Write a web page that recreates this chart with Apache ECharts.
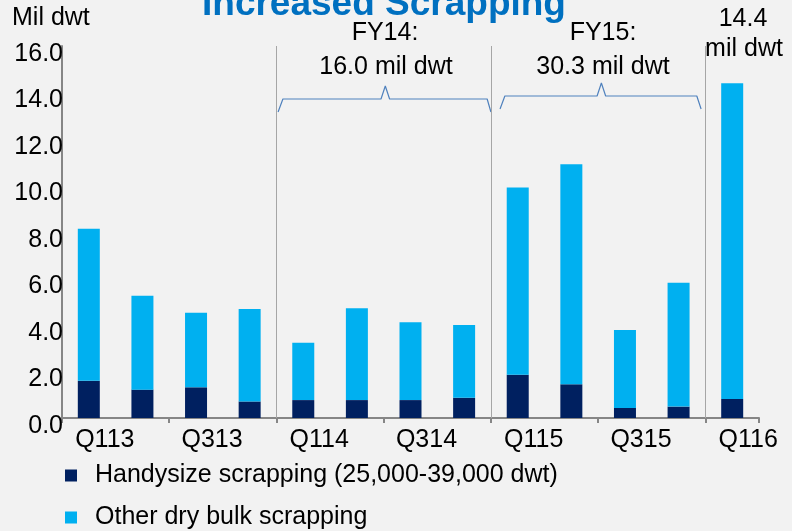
<!DOCTYPE html>
<html>
<head>
<meta charset="utf-8">
<script src="https://cdn.jsdelivr.net/npm/echarts@6/dist/echarts.min.js"></script>
<style>
html,body{margin:0;padding:0;background:#f2f2f2;}
#main{width:792px;height:531px;}
</style>
</head>
<body>
<div id="main"></div>
<script>
// 季度
var quarters = ['Q113','Q213','Q313','Q413','Q114','Q214','Q314','Q414','Q115','Q215','Q315','Q415','Q116'];
// Handysize 拆解量 (mil dwt)
var handysize = [1.60, 1.22, 1.32, 0.71, 0.77, 0.77, 0.77, 0.87, 1.86, 1.45, 0.43, 0.49, 0.82];
// 其他干散货拆解量 (mil dwt)
var otherBulk = [6.54, 4.04, 3.21, 3.98, 2.47, 3.95, 3.35, 3.13, 8.05, 9.46, 3.35, 5.33, 13.58];
// 年度分隔（类目边界序号）
var fyBounds = [4, 8, 12];
// 大括号（x 为类目边界坐标, y 为数值）
var braceFY14 = [[4.03,13.16],[4.12,13.72],[5.95,13.72],[6.03,14.28],[6.11,13.72],[7.93,13.72],[8.0,13.16]];
var braceFY15 = [[8.17,13.29],[8.26,13.85],[9.98,13.85],[10.06,14.41],[10.14,13.85],[11.84,13.85],[11.92,13.29]];

var font = '"Liberation Sans", Arial, sans-serif';
var myChart = echarts.init(document.getElementById('main'));

function note(text, x, y){
	return {type: 'text', x: x, y: y, style: {text: text, font: '25px ' + font, fill: '#000', align: 'center', verticalAlign: 'middle'}};
}

var option = {
	backgroundColor: '#f2f2f2',
	animation: false,
	title: {
		text: 'Increased Scrapping',
		left: 197,
		top: -19,
		textStyle: {color: '#0070c0', fontSize: 37, fontWeight: 'bold', fontFamily: font}
	},
	grid: {left: 62, right: 33, top: 46, bottom: 113},
	legend: {
		data: ['Handysize scrapping (25,000-39,000 dwt)', 'Other dry bulk scrapping'],
		orient: 'vertical',
		left: 65,
		top: 463,
		padding: 0,
		itemWidth: 12,
		itemHeight: 12,
		itemGap: 17,
		icon: 'rect',
		textStyle: {fontSize: 25, color: '#000', fontFamily: font, padding: [0,0,0,13]}
	},
	xAxis: [{
		type: 'category',
		data: quarters,
		axisLine: {lineStyle: {color: '#868686', width: 2}},
		axisTick: {show: true, length: 5, lineStyle: {color: '#868686', width: 2}},
		axisLabel: {interval: 1, fontSize: 25, color: '#000', fontFamily: font, margin: 10, padding: [0,0,0,32]}
	}, {
		type: 'value',
		min: 0,
		max: 13,
		show: false
	}],
	yAxis: {
		type: 'value',
		min: 0,
		max: 16,
		interval: 2,
		axisLine: {show: true, lineStyle: {color: '#868686', width: 2}},
		axisTick: {show: false},
		splitLine: {show: false},
		axisLabel: {
			fontSize: 25, color: '#000', fontFamily: font, margin: -1,
			verticalAlign: 'top', lineHeight: 16,
			formatter: function(v){ return v.toFixed(1); }
		}
	},
	graphic: [
		{type: 'text', left: 12, top: 6, style: {text: 'Mil dwt', font: '25px ' + font, fill: '#000'}},
		note('FY14:', 385, 33),
		note('16.0 mil dwt', 386, 67),
		note('FY15:', 603, 33),
		note('30.3 mil dwt', 603, 67),
		note('14.4', 743, 19),
		note('mil dwt', 744, 49)
	],
	series: [{
		name: 'Handysize scrapping (25,000-39,000 dwt)',
		type: 'bar',
		stack: 'total',
		barWidth: 22,
		itemStyle: {color: '#002060'},
		data: handysize
	}, {
		name: 'Other dry bulk scrapping',
		type: 'bar',
		stack: 'total',
		barWidth: 22,
		itemStyle: {color: '#00b0f0'},
		data: otherBulk
	}, {
		name: 'braceFY14',
		type: 'line',
		xAxisIndex: 1,
		symbol: 'none',
		silent: true,
		lineStyle: {color: '#4f81bd', width: 1.2},
		data: braceFY14,
		markLine: {
			silent: true,
			symbol: 'none',
			label: {show: false},
			lineStyle: {color: '#a6a6a6', width: 1, type: 'solid'},
			data: fyBounds.map(function(b){ return {xAxis: b}; })
		}
	}, {
		name: 'braceFY15',
		type: 'line',
		xAxisIndex: 1,
		symbol: 'none',
		silent: true,
		lineStyle: {color: '#4f81bd', width: 1.2},
		data: braceFY15
	}]
};
myChart.setOption(option);
</script>
</body>
</html>
